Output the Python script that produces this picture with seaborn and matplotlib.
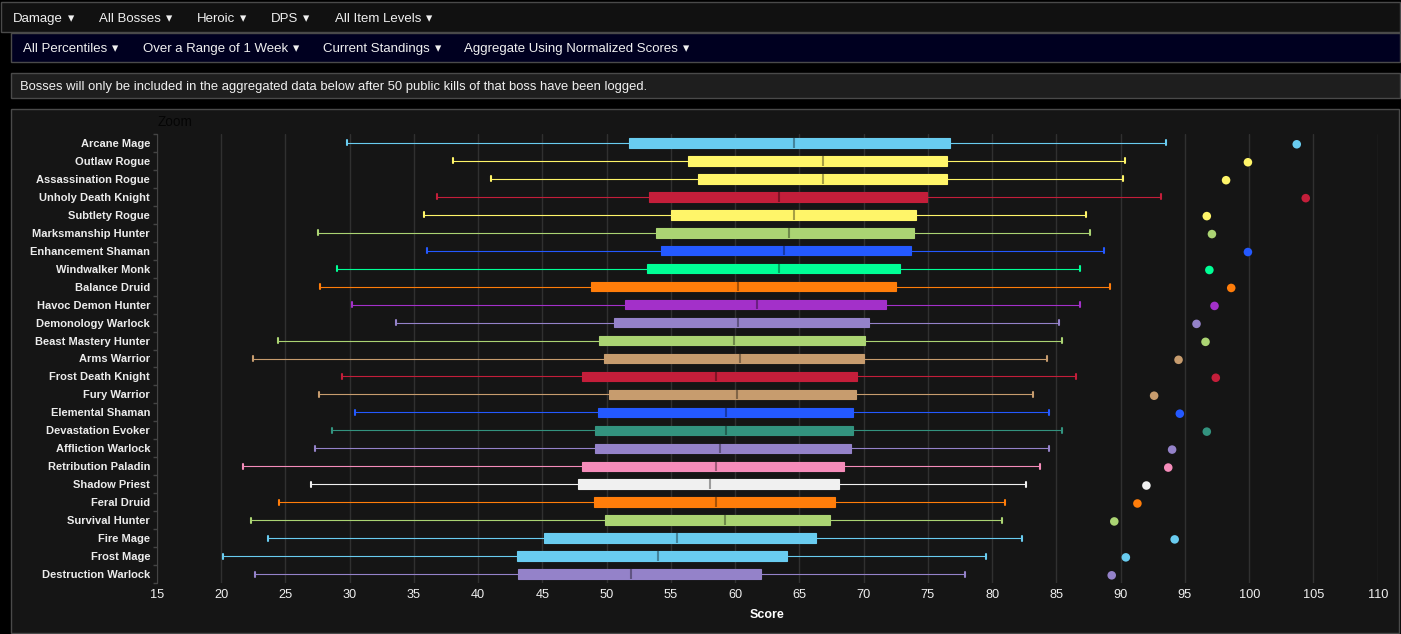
import matplotlib
matplotlib.use("Agg")
import matplotlib.pyplot as plt
import matplotlib.patches as mpatches
from matplotlib.transforms import Affine2D
import pandas as pd
import seaborn as sns

specs = ["Arcane Mage", "Outlaw Rogue", "Assassination Rogue", "Unholy Death Knight",
         "Subtlety Rogue", "Marksmanship Hunter", "Enhancement Shaman", "Windwalker Monk",
         "Balance Druid", "Havoc Demon Hunter", "Demonology Warlock", "Beast Mastery Hunter",
         "Arms Warrior", "Frost Death Knight", "Fury Warrior", "Elemental Shaman",
         "Devastation Evoker", "Affliction Warlock", "Retribution Paladin", "Shadow Priest",
         "Feral Druid", "Survival Hunter", "Fire Mage", "Frost Mage", "Destruction Warlock"]

low = [29.8, 38.0, 41.0, 36.8, 35.8, 27.5, 36.0, 29.0, 27.7, 30.2, 33.6, 24.4, 22.5,
       29.4, 27.6, 30.4, 28.6, 27.3, 21.7, 27.0, 24.5, 22.3, 23.6, 20.1, 22.6]
q1 = [51.7, 56.3, 57.1, 53.3, 55.0, 53.8, 54.2, 53.1, 48.8, 51.4, 50.6, 49.4, 49.8,
      48.1, 50.2, 49.3, 49.1, 49.1, 48.1, 47.8, 49.0, 49.9, 45.1, 43.0, 43.1]
median = [64.6, 66.8, 66.8, 63.4, 64.6, 64.2, 63.8, 63.4, 60.2, 61.7, 60.2, 59.9, 60.4,
          58.5, 60.1, 59.3, 59.3, 58.8, 58.5, 58.0, 58.5, 59.2, 55.5, 54.0, 51.9]
q3 = [76.7, 76.5, 76.5, 74.9, 74.1, 73.9, 73.7, 72.8, 72.5, 71.7, 70.4, 70.1, 70.0,
      69.5, 69.4, 69.2, 69.2, 69.0, 68.5, 68.1, 67.8, 67.4, 66.3, 64.0, 62.0]
high = [93.5, 90.3, 90.2, 93.1, 87.3, 87.6, 88.7, 86.8, 89.2, 86.8, 85.2, 85.4, 84.3,
        86.5, 83.2, 84.4, 85.4, 84.4, 83.7, 82.6, 81.0, 80.8, 82.3, 79.5, 77.9]
top = [103.7, 99.9, 98.2, 104.4, 96.7, 97.1, 99.9, 96.9, 98.6, 97.3, 95.9, 96.6, 94.5,
       97.4, 92.6, 94.6, 96.7, 94.0, 93.7, 92.0, 91.3, 89.5, 94.2, 90.4, 89.3]

colors = ["#69ccf0", "#fff569", "#fff569", "#c41e3a", "#fff569", "#abd473", "#2459ff",
          "#00ff96", "#ff7d0a", "#a330c9", "#9482c9", "#abd473", "#c79c6e", "#c41e3a",
          "#c79c6e", "#2459ff", "#33937f", "#9482c9", "#f58cba", "#f0f0f0", "#ff7d0a",
          "#abd473", "#69ccf0", "#69ccf0", "#9482c9"]

menu_top = ["Damage", "All Bosses", "Heroic", "DPS", "All Item Levels"]
menu_sub = ["All Percentiles", "Over a Range of 1 Week", "Current Standings",
            "Aggregate Using Normalized Scores"]
notice = "Bosses will only be included in the aggregated data below after 50 public kills of that boss have been logged."

W, H = 1401, 634
BG = "#151515"

sns.set_style("dark")
plt.rcParams["font.family"] = ["Liberation Sans", "DejaVu Sans"]

# five summary numbers per spec, whis=(0, 100) makes seaborn reproduce them
df = pd.DataFrame({"spec": specs, "low": low, "q1": q1, "median": median, "q3": q3, "high": high})
long_df = df.melt(id_vars="spec", value_name="score")
dots = pd.DataFrame({"spec": specs, "score": top})

fig = plt.figure(figsize=(W / 100, H / 100), dpi=100, facecolor="black")


def panel(x, y, w, h, face, edge="#4a4a4a"):
    # pixel box from the top left corner, kept under the axes
    fig.add_artist(mpatches.Rectangle((x / W, 1 - (y + h) / H), w / W, h / H, transform=fig.transFigure,
                                      facecolor=face, edgecolor=edge, linewidth=1, zorder=-2))


def menu(labels, xs, y):
    for lab, x in zip(labels, xs):
        txt = fig.text(x / W, 1 - y / H, lab, color="#f0f0f0", fontsize=9.5, va="center")
        bb = txt.get_window_extent(fig.canvas.get_renderer())
        fig.text((bb.x1 + 8) / W, 1 - y / H, "\u25be", color="#f0f0f0", fontsize=9,
                 va="center", ha="center", family="DejaVu Sans")


panel(1, 2, 1399, 30, "#111111")
panel(11, 33, 1389, 29, "#000020")
panel(11, 73, 1389, 25, "#1e1e1e")
panel(11, 109, 1388, 524, BG)
menu(menu_top, [13, 99, 197, 271, 335], 19)
menu(menu_sub, [23, 143, 323, 464], 49)
fig.text(20 / W, 1 - 87 / H, notice, color="#f0f0f0", fontsize=9.33, va="center")
fig.text(158 / W, 1 - 122 / H, "Zoom", color="#050505", fontsize=9.8, va="center")

ax = fig.add_axes([157 / W, 1 - 583 / H, (1377.7 - 157) / W, (583 - 134) / H])
ax.set_facecolor(BG)
sns.boxplot(data=long_df, x="score", y="spec", hue="spec", order=specs, hue_order=specs,
            palette=colors, saturation=1, whis=(0, 100), width=0.53, dodge=False, legend=False,
            linewidth=0.8, fliersize=0, ax=ax)
for box, col in zip(ax.containers, colors):
    for patch in box.boxes:
        patch.set_edgecolor(col)
    for line in list(box.whiskers) + list(box.caps):
        line.set_color(col)
        line.set_snap(True)
    for line in box.medians:
        line.set_color("#000000")
        line.set_alpha(0.35)
        line.set_linewidth(1.5)
    for cap in box.caps:
        ys = cap.get_ydata()
        mid = sum(ys) / 2
        cap.set_ydata([mid - 0.14, mid + 0.14])
        cap.set_linewidth(1.5)
sns.scatterplot(data=dots, x="score", y="spec", hue="spec", hue_order=specs, palette=colors,
                s=38, linewidth=0, legend=False, zorder=4, ax=ax)
# dots sit a pixel under the row centre in the original
ax.collections[-1].set_offset_transform(ax.transData + Affine2D().translate(0, -1.3))

ax.set_xlim(15, 110)
ax.set_ylim(24.5, -0.5)
ax.set_xticks(range(15, 111, 5))
# tick marks fall on the band edges, labels in the middle of the band
ax.set_yticks([i - 0.5 for i in range(len(specs) + 1)], minor=True)
ax.grid(axis="x", color="#303030", linewidth=1)
ax.grid(axis="y", visible=False)
ax.set_axisbelow(True)
for side in ["top", "right", "bottom"]:
    ax.spines[side].set_visible(False)
ax.spines["left"].set_color("#444444")
ax.tick_params(axis="y", which="major", colors="#ececec", labelsize=8, length=0, pad=5)
ax.tick_params(axis="y", which="minor", length=3, color="#444444", width=1, left=True)
ax.tick_params(axis="x", colors="#f0f0f0", labelsize=9.2, length=0, pad=4)
for lab in ax.get_yticklabels():
    lab.set_fontweight("bold")
    lab.set_verticalalignment("center_baseline")
ax.set_ylabel("")
ax.set_xlabel("Score", color="white", fontsize=9, fontweight="bold", labelpad=6)

fig.savefig("out.png", dpi=100, facecolor=fig.get_facecolor())
